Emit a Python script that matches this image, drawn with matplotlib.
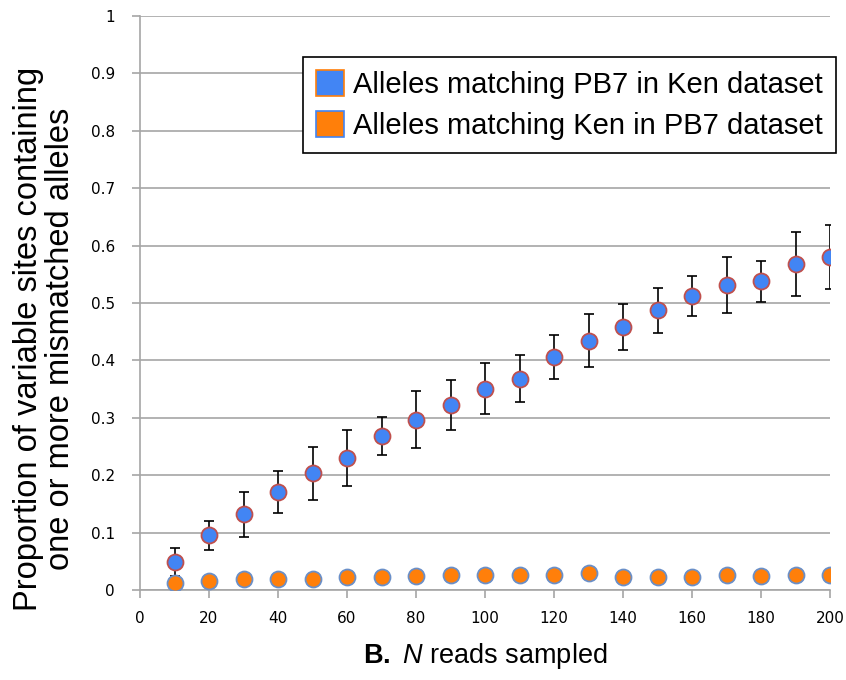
import numpy as np
import matplotlib.pyplot as plt
from matplotlib.patches import Patch

plt.rcParams['mathtext.fontset'] = 'custom'
plt.rcParams['mathtext.rm'] = 'Liberation Sans'
plt.rcParams['mathtext.it'] = 'Liberation Sans:italic'
plt.rcParams['mathtext.bf'] = 'Liberation Sans:bold'

# reads sampled
n_reads = [10, 20, 30, 40, 50, 60, 70, 80, 90, 100,
           110, 120, 130, 140, 150, 160, 170, 180, 190, 200]

# alleles matching PB7 in Ken dataset (mean, error)
pb7_in_ken = [0.049, 0.095, 0.132, 0.171, 0.203, 0.230, 0.269, 0.297, 0.322, 0.351,
              0.368, 0.406, 0.434, 0.458, 0.487, 0.512, 0.531, 0.538, 0.568, 0.580]
pb7_in_ken_err = [0.024, 0.026, 0.039, 0.037, 0.046, 0.049, 0.033, 0.049, 0.044, 0.045,
                  0.041, 0.038, 0.046, 0.040, 0.040, 0.035, 0.049, 0.036, 0.055, 0.056]

# alleles matching Ken in PB7 dataset
ken_in_pb7 = [0.013, 0.015, 0.019, 0.019, 0.019, 0.023, 0.022, 0.024, 0.027, 0.027,
              0.027, 0.027, 0.029, 0.022, 0.022, 0.022, 0.027, 0.024, 0.027, 0.027]

blue = '#4285f4'
orange = '#ff7f0a'
blue_edge = '#6a8fc8'
red_edge = '#c0504d'
grey = '#a6a6a6'

fig = plt.figure(figsize=(8.46, 6.8), dpi=100)
ax = fig.add_axes([140 / 846, 90 / 680, 690 / 846, 574 / 680])

ax.errorbar(n_reads, pb7_in_ken, yerr=pb7_in_ken_err, fmt='none', ecolor='black',
            elinewidth=1.2, capsize=3.5, capthick=1.2, zorder=2)
ax.plot(n_reads, pb7_in_ken, 'o', ms=11.5, mfc=blue, mec=red_edge, mew=1.3, zorder=3)
ax.plot(n_reads, ken_in_pb7, 'o', ms=11.5, mfc=orange, mec=blue_edge, mew=1.3, zorder=3)

ax.set_xlim(0, 200)
ax.set_ylim(0, 1)
ax.set_xticks(np.arange(0, 201, 20))
ax.set_yticks(np.arange(0, 1.01, 0.1))
ax.set_yticklabels(['0', '0.1', '0.2', '0.3', '0.4', '0.5', '0.6', '0.7', '0.8', '0.9', '1'])
ax.grid(axis='y', color=grey, lw=1.2)
ax.set_axisbelow(True)
for s in ['top', 'right']:
    ax.spines[s].set_visible(False)
for s in ['left', 'bottom']:
    ax.spines[s].set_color(grey)
    ax.spines[s].set_linewidth(1.2)
ax.tick_params(axis='both', colors=grey, labelcolor='black', labelsize=11,
               length=6, width=1.2)
ax.tick_params(axis='y', pad=12)
ax.tick_params(axis='x', pad=9)

ax.set_ylabel('Proportion of variable sites containing\none or more mismatched alleles',
              fontsize=23.5, family='Liberation Sans', linespacing=1.05)
ax.yaxis.set_label_coords(-0.093, 0.437)
ax.set_xlabel(r'$\mathbf{B.}$ $\mathit{N}$ reads sampled', fontsize=19.5,
              family='Liberation Sans', labelpad=11)

handles = [Patch(facecolor=blue, edgecolor=orange, lw=1.2),
           Patch(facecolor=orange, edgecolor=blue, lw=1.2)]
leg = ax.legend(handles, ['Alleles matching PB7 in Ken dataset',
                          'Alleles matching Ken in PB7 dataset'],
                loc='upper right', bbox_to_anchor=(1.0087, 0.9286),
                prop={'family': 'Liberation Sans', 'size': 21},
                fancybox=False, framealpha=1, edgecolor='black',
                handlelength=0.96, handleheight=1.0, handletextpad=0.31,
                labelspacing=0.4, borderpad=0.45, borderaxespad=0)
leg.get_frame().set_linewidth(1.2)

fig.savefig('out.png', dpi=100)
